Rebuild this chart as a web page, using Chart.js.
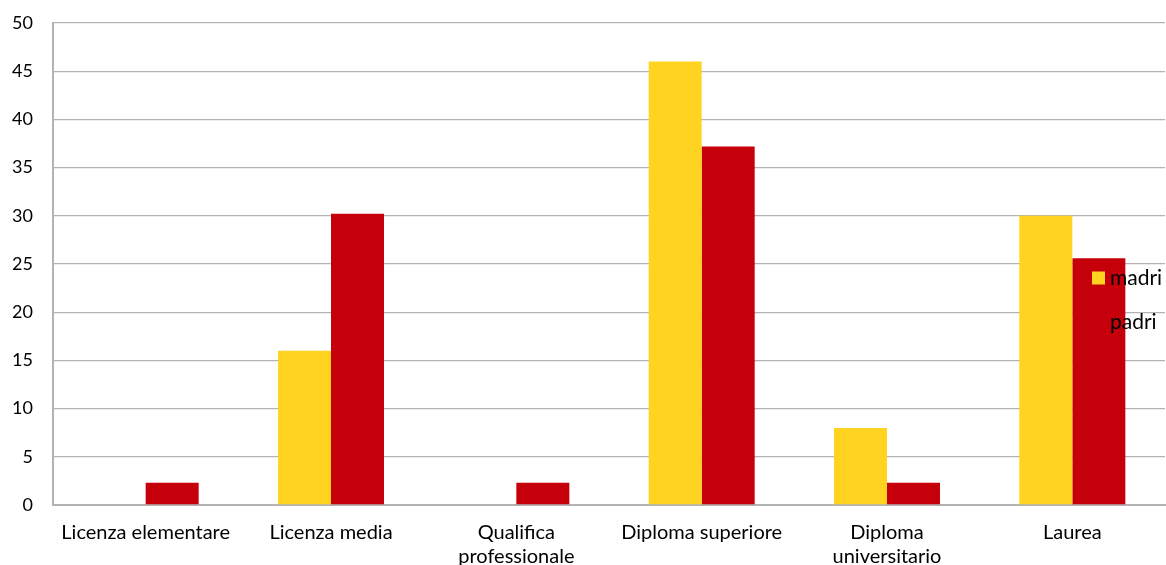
<!DOCTYPE html>
<html>
<head>
<meta charset="utf-8">
<script src="https://cdn.jsdelivr.net/npm/chart.js@4"></script>
<style>
html,body{margin:0;padding:0;background:#fff;}
#wrap{width:1166px;height:565px;position:relative;}
</style>
</head>
<body>
<div id="wrap"><canvas id="c"></canvas></div>
<script>
const categories = [
  "Licenza elementare",
  "Licenza media",
  ["Qualifica", "professionale"],
  "Diploma superiore",
  ["Diploma", "universitario"],
  "Laurea"
];
const seriesNames = ["madri", "padri"];
const madri = [0, 16.0, 0, 46.0, 8.0, 30.0];
const padri = [2.3, 30.2, 2.3, 37.2, 2.3, 25.6];
const yTicks = [0, 5, 10, 15, 20, 25, 30, 35, 40, 45, 50];

const colors = ["#ffd320", "#c5000b"];
const FONT = "Lato, 'Open Sans', sans-serif";

const legendPlugin = {
  id: "customLegend",
  afterDatasetsDraw(chart) {
    const ctx = chart.ctx;
    ctx.save();
    ctx.font = "21px " + FONT;
    ctx.textBaseline = "middle";
    ctx.textAlign = "left";
    const x0 = 1092, y0 = 278, gap = 44, sq = 13;
    chart.data.datasets.forEach((ds, i) => {
      const y = y0 + i * gap;
      ctx.fillStyle = ds.backgroundColor;
      ctx.fillRect(x0, y - sq / 2, sq, sq);
      ctx.fillStyle = "#000";
      ctx.fillText(ds.label, x0 + 18, y);
    });
    ctx.restore();
  }
};

new Chart(document.getElementById("c"), {
  type: "bar",
  data: {
    labels: categories,
    datasets: [
      { label: seriesNames[0], data: madri, backgroundColor: colors[0] },
      { label: seriesNames[1], data: padri, backgroundColor: colors[1] }
    ]
  },
  options: {
    responsive: true,
    maintainAspectRatio: false,
    animation: false,
    layout: { padding: { top: 23, right: 1, left: 0, bottom: 0 } },
    categoryPercentage: 0.572,
    barPercentage: 1.0,
    plugins: {
      legend: { display: false },
      tooltip: { enabled: false }
    },
    scales: {
      x: {
        grid: { display: false, drawTicks: false },
        border: { display: true, color: "#b3b3b3", width: 2 },
        ticks: {
          color: "#000",
          font: { family: FONT, size: 20 },
          padding: 16,
          maxRotation: 0,
          autoSkip: false
        },
        afterFit(scale) { scale.height = 60; }
      },
      y: {
        min: 0,
        max: 50,
        afterBuildTicks(scale) { scale.ticks = yTicks.map(v => ({ value: v })); },
        grid: { color: "#b3b3b3", lineWidth: 1.3, drawTicks: false },
        border: { display: true, color: "#b3b3b3", width: 2 },
        ticks: {
          color: "#000",
          font: { family: FONT, size: 18 },
          padding: 20
        },
        afterFit(scale) {
          scale.width = 53;
          scale.paddingTop = 0;
          scale.paddingBottom = 0;
        }
      }
    }
  },
  plugins: [legendPlugin]
});
</script>
</body>
</html>
